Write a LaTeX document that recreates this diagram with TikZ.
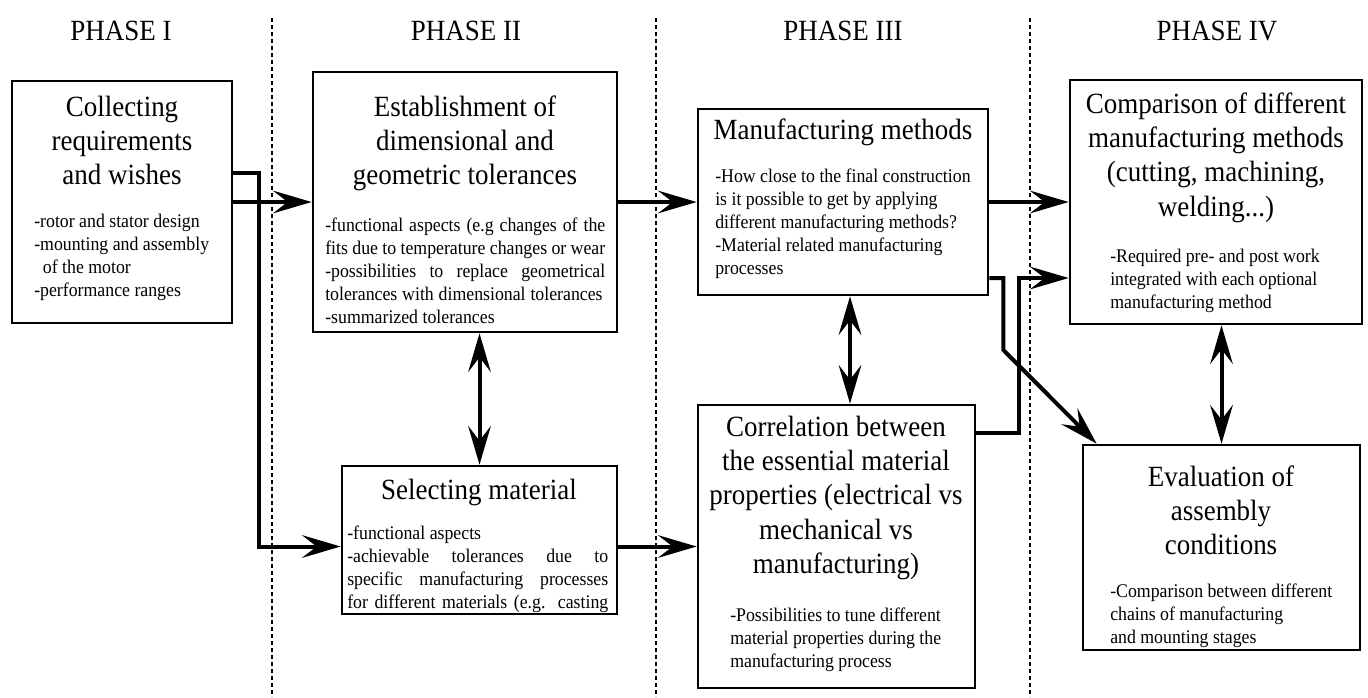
\documentclass[tikz,border=0pt]{standalone}
\usepackage{fontspec}
\setmainfont{Liberation Serif}[FakeStretch=0.92]
\usetikzlibrary{arrows.meta,calc,fit}
\newcommand\boxtitlefont{\fontsize{22}{25.75}\selectfont}
\newcommand\boxbodyfont{\fontsize{14.5}{17.25}\selectfont}
\newcommand\jline[2]{\makebox[#1][s]{#2}}

\begin{document}
\begin{tikzpicture}[x=0.75pt,y=-0.75pt,
  box/.style={draw, line width=2pt, inner sep=0pt},
  boxtitle/.style={font=\boxtitlefont, align=center, anchor=north, inner sep=0pt},
  boxbody/.style={font=\boxbodyfont, align=left, anchor=north west, inner sep=0pt},
  phaselabel/.style={font=\boxtitlefont, anchor=base, inner sep=0pt},
  conn/.style={line width=3pt, line join=miter, -{Stealth[length=29pt,width=17pt,inset=11pt]}},
  dconn/.style={line width=3pt, {Stealth[length=29pt,width=17pt,inset=11pt]}-{Stealth[length=29pt,width=17pt,inset=11pt]}},
  divider/.style={line width=1.5pt, dash pattern=on 3pt off 2.25pt}]

\useasboundingbox (0,0) rectangle (1368,697);
\fill[white] (0,0) rectangle (1368,697);

% phase dividers
\draw[divider] (272,18) -- (272,697);
\draw[divider] (656,18) -- (656,697);
\draw[divider] (1030,18) -- (1030,697);

% phase headings
\node[phaselabel] (ph1) at (121,40) {PHASE I};
\node[phaselabel] (ph2) at (466,40) {PHASE II};
\node[phaselabel] (ph3) at (843,40) {PHASE III};
\node[phaselabel] (ph4) at (1217,40) {PHASE IV};

% boxes
\node[box, fit={(12,81) (232,323)}] (req) {};
\node[box, fit={(313,72) (617,332)}] (tol) {};
\node[box, fit={(342,466) (617,614)}] (mat) {};
\node[box, fit={(698,109) (988,295)}] (man) {};
\node[box, fit={(698,405) (975,688)}] (cor) {};
\node[box, fit={(1070,80) (1362,324)}] (cmp) {};
\node[box, fit={(1083,445) (1360,650)}] (eva) {};

% box texts
\node[boxtitle] (reqT) at (122,92) {\strut Collecting\\requirements\\and wishes};
\node[boxbody] (reqB) at (34,211) {\strut-rotor and stator design\\-mounting and assembly\\\hspace*{6.5pt}of the motor\\-performance ranges};

\node[boxtitle] (tolT) at (465,92) {\strut Establishment of\\dimensional and\\geometric tolerances};
\node[boxbody] (tolB) at (325,215) {\strut\jline{210pt}{-functional aspects (e.g changes of the}\\\jline{210pt}{fits due to temperature changes or wear}\\\jline{210pt}{-possibilities to replace geometrical}\\\jline{208pt}{tolerances with dimensional tolerances}\\-summarized tolerances};

\node[boxtitle] (matT) at (479,475) {\strut Selecting material};
\node[boxbody] (matB) at (347,523) {\strut-functional aspects\\\jline{195.75pt}{-achievable tolerances due to}\\\jline{195.75pt}{specific manufacturing processes}\\\jline{195.75pt}{for different materials (e.g. casting}};

\node[boxtitle] (manT) at (843,115) {\strut Manufacturing methods};
\node[boxbody] (manB) at (715,166) {\strut-How close to the final construction\\is it possible to get by applying\\different manufacturing methods?\\-Material related manufacturing\\processes};

\node[boxtitle] (corT) at (836,412) {\strut Correlation between\\the essential material\\properties (electrical vs\\mechanical vs\\manufacturing)};
\node[boxbody] (corB) at (730,605) {\strut-Possibilities to tune different\\material properties during the\\manufacturing process};

\node[boxtitle] (cmpT) at (1216,89) {\strut Comparison of different\\manufacturing methods\\(cutting, machining,\\welding...)};
\node[boxbody] (cmpB) at (1110,246) {\strut-Required pre- and post work\\integrated with each optional\\manufacturing method};

\node[boxtitle] (evaT) at (1221,462) {\strut Evaluation of\\assembly\\conditions};
\node[boxbody] (evaB) at (1110,581) {\strut-Comparison between different\\chains of manufacturing\\and mounting stages};

% connectors
\draw[conn] (req.east) -- (tol.west);
\draw[conn] ($(req.east)+(0,-29)$) -- ++(26,0) |- (mat.west |- cor.west);
\draw[conn] (tol.east) -- (man.west);
\draw[conn] (mat.east |- cor.west) -- (cor.west);
\draw[dconn] (mat.north |- tol.south) -- (mat.north);
\draw[dconn] ($(man.south)+(7,0)$) -- ($(cor.north)+(13.5,0)$);
\draw[dconn] (eva.north |- cmp.south) -- (eva.north);
\draw[conn] (man.east) -- (cmp.west);
\draw[conn] ($(cor.east)+(0,-113.5)$) -- ++(43,0) |- ($(cmp.west)+(0,76)$);
\draw[conn] ($(man.east)+(0,76)$) -- ++(14,0) -- ++(0,72) -- ($(eva.north west)+(15,0)$);
\end{tikzpicture}
\end{document}
